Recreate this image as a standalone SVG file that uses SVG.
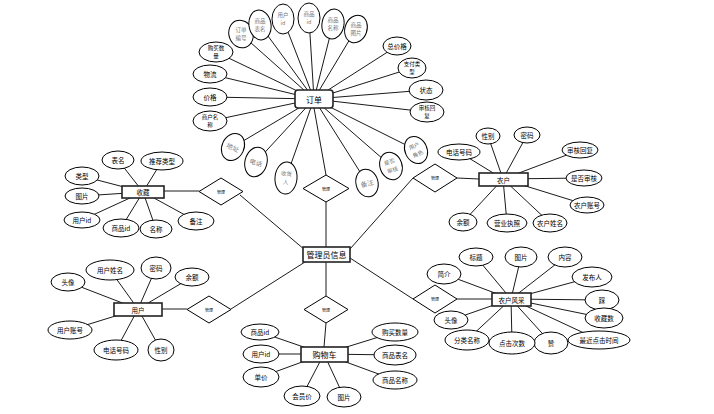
<svg xmlns="http://www.w3.org/2000/svg" width="714" height="414" viewBox="0 0 714 414">
<style>
.e{fill:#fff;stroke:#000;stroke-width:1}
.r{fill:#fff;stroke:#222;stroke-width:1.6}
.d{fill:#fff;stroke:#000;stroke-width:1}
.l{stroke:#000;stroke-width:0.9;fill:none}
text{font-family:"Noto Sans CJK SC","Noto Sans",sans-serif;text-anchor:middle;dominant-baseline:central}
.t{font-size:6.5px}
.t2{font-size:5.5px}
.g{font-size:5.5px;fill:#777}
.g1{font-size:6.5px;fill:#777}
.m{font-size:8px}
.s{font-size:4px}
</style>
<rect width="714" height="414" fill="#fff"/>
<g id="connectors" class="l">
<path d="M314 99L241 34M314 99L260 25M314 99L283 19M314 99L309 18M314 99L333 24M314 99L356 29M314 99L216 52M314 99L210 74M314 99L210 97M314 99L210 121M314 99L397 46M314 99L412 68M314 99L426 90M314 99L427 112M314 99L233 147M314 99L256 162M314 99L286 178M314 99L367 183M314 99L391 166M314 99L416 150"/>
<path d="M314 108L326 175M326 202L326 247"/>
<path d="M143 192L118 160M143 192L162 161M143 192L82 176M143 192L82 196M143 192L82 220M143 192L121 228M143 192L156 229M143 192L196 221M164 191L199 191M240 195L305 250"/>
<path d="M138 309L68 282M138 309L110 270M138 309L156 268M138 309L192 277M138 309L70 330M138 309L116 350M138 309L161 350M162 309L187 309M231 309L305 262"/>
<path d="M326 262L326 296M326 323L324 347"/>
<path d="M324 354L260 332M324 354L261 354M324 354L261 377M324 354L302 396M324 354L344 397M324 354L395 332M324 354L395 355M324 354L395 380"/>
<path d="M350 258L413 299M457 299L492 299"/>
<path d="M511 299L444 274M511 299L476 257M511 299L521 257M511 299L565 257M511 299L592 277M511 299L602 300M511 299L604 318M511 299L599 340M511 299L551 343M511 299L512 343M511 299L467 340M511 299L451 320"/>
<path d="M350 249L413 178M457 178L479 179"/>
<path d="M503 179L459 152M503 179L488 136M503 179L527 135M503 179L580 150M503 179L584 178M503 179L587 205M503 179L550 223M503 179L507 223M503 179L463 222"/>
</g>
<g id="order">
<rect class="r" x="295" y="90" width="38" height="18" rx="3"/>
<text class="m" x="314" y="99">订单</text>
</g>
<g id="order-attrs">
<g transform="rotate(-20 241 34)"><ellipse class="e" cx="241" cy="34" rx="12" ry="14"/></g><text class="g" x="241" y="29.7">订单</text><text class="g" x="241" y="38.3">编号</text>
<g transform="rotate(-10 260 25)"><ellipse class="e" cx="260" cy="25" rx="11" ry="15"/></g><text class="g" x="260" y="20.7">商品</text><text class="g" x="260" y="29.3">表名</text>
<ellipse class="e" cx="283" cy="19" rx="11" ry="15"/><text class="g" x="283" y="14.7">用户</text><text class="g" x="283" y="23.3">id</text>
<ellipse class="e" cx="309" cy="18" rx="11" ry="15"/><text class="g" x="309" y="13.7">商品</text><text class="g" x="309" y="22.3">id</text>
<g transform="rotate(10 333 24)"><ellipse class="e" cx="333" cy="24" rx="11" ry="15"/></g><text class="g" x="333" y="19.7">商品</text><text class="g" x="333" y="28.3">名称</text>
<g transform="rotate(20 356 29)"><ellipse class="e" cx="356" cy="29" rx="11" ry="14"/></g><text class="g" x="356" y="24.7">商品</text><text class="g" x="356" y="33.3">图片</text>
<ellipse class="e" cx="216" cy="52" rx="17" ry="10"/><text class="t2" x="216" y="47.7">购买数</text><text class="t2" x="216" y="56.3">量</text>
<ellipse class="e" cx="210" cy="74" rx="17" ry="9"/><text class="t" x="210" y="74">物流</text>
<ellipse class="e" cx="210" cy="97" rx="17" ry="9"/><text class="t" x="210" y="97">价格</text>
<ellipse class="e" cx="210" cy="121" rx="17" ry="10"/><text class="t2" x="210" y="116.7">商户名</text><text class="t2" x="210" y="125.3">称</text>
<ellipse class="e" cx="397" cy="46" rx="14" ry="9"/><text class="t" x="397" y="46">总价格</text>
<ellipse class="e" cx="412" cy="68" rx="14" ry="10"/><text class="t2" x="412" y="63.7">支付类</text><text class="t2" x="412" y="72.3">型</text>
<ellipse class="e" cx="426" cy="90" rx="17" ry="10"/><text class="t" x="426" y="90">状态</text>
<ellipse class="e" cx="427" cy="112" rx="17" ry="10"/><text class="t2" x="427" y="107.7">审核回</text><text class="t2" x="427" y="116.3">复</text>
<g transform="rotate(25 233 147)"><ellipse class="e" cx="233" cy="147" rx="11" ry="14"/><text class="g1" x="233" y="147">地址</text></g>
<g transform="rotate(15 256 162)"><ellipse class="e" cx="256" cy="162" rx="11" ry="15"/><text class="g1" x="256" y="162">电话</text></g>
<g transform="rotate(5 286 178)"><ellipse class="e" cx="286" cy="178" rx="11" ry="16"/><text class="g" x="286" y="173.7">收货</text><text class="g" x="286" y="182.3">人</text></g>
<g transform="rotate(-15 367 183)"><ellipse class="e" cx="367" cy="183" rx="11" ry="14"/><text class="g1" x="367" y="183">备注</text></g>
<g transform="rotate(-20 391 166)"><ellipse class="e" cx="391" cy="166" rx="11" ry="14"/><text class="g" x="391" y="161.7">是否</text><text class="g" x="391" y="170.3">审核</text></g>
<g transform="rotate(-25 416 150)"><ellipse class="e" cx="416" cy="150" rx="11" ry="14"/><text class="g" x="416" y="145.7">用户</text><text class="g" x="416" y="154.3">角色</text></g>
</g>
<g id="rel-order">
<path class="d" d="M326 175L349 188.5L326 202L303 188.5Z"/><text class="s" x="326" y="188.5">管理</text>
</g>
<g id="admin">
<rect class="r" x="303" y="247" width="47" height="15"/>
<text class="m" x="326.5" y="254.5">管理员信息</text>
</g>
<g id="favorite">
<rect class="r" x="122" y="186" width="42" height="12"/>
<text class="t" x="143" y="192">收藏</text>
<ellipse class="e" cx="118" cy="160" rx="16" ry="9"/><text class="t" x="118" y="160">表名</text>
<ellipse class="e" cx="162" cy="161" rx="21" ry="9"/><text class="t" x="162" y="161">推荐类型</text>
<ellipse class="e" cx="82" cy="176" rx="17" ry="9"/><text class="t" x="82" y="176">类型</text>
<ellipse class="e" cx="82" cy="196" rx="17" ry="8"/><text class="t" x="82" y="196">图片</text>
<ellipse class="e" cx="82" cy="220" rx="18" ry="8"/><text class="t" x="82" y="220">用户id</text>
<ellipse class="e" cx="121" cy="228" rx="18" ry="9"/><text class="t" x="121" y="228">商品id</text>
<ellipse class="e" cx="156" cy="229" rx="16" ry="9"/><text class="t" x="156" y="229">名称</text>
<ellipse class="e" cx="196" cy="221" rx="18" ry="9"/><text class="t" x="196" y="221">备注</text>
</g>
<g id="rel-favorite">
<path class="d" d="M221 178L243 191.5L221 205L199 191.5Z"/><text class="s" x="221" y="191.5">管理</text>
</g>
<g id="user">
<rect class="r" x="114" y="303" width="48" height="13"/>
<text class="t" x="138" y="309.5">用户</text>
<ellipse class="e" cx="68" cy="282" rx="17" ry="9"/><text class="t" x="68" y="282">头像</text>
<ellipse class="e" cx="110" cy="270" rx="24" ry="10"/><text class="t" x="110" y="270">用户姓名</text>
<ellipse class="e" cx="156" cy="268" rx="15" ry="11"/><text class="t" x="156" y="268">密码</text>
<ellipse class="e" cx="192" cy="277" rx="17" ry="9"/><text class="t" x="192" y="277">余额</text>
<ellipse class="e" cx="70" cy="330" rx="22" ry="9"/><text class="t" x="70" y="330">用户账号</text>
<ellipse class="e" cx="116" cy="350" rx="22" ry="10"/><text class="t" x="116" y="350">电话号码</text>
<ellipse class="e" cx="161" cy="350" rx="13" ry="11"/><text class="t" x="161" y="350">性别</text>
</g>
<g id="rel-user">
<path class="d" d="M209 296L231 309.5L209 323L187 309.5Z"/><text class="s" x="209" y="309.5">管理</text>
</g>
<g id="rel-cart">
<path class="d" d="M326 296L348 309.5L326 323L304 309.5Z"/><text class="s" x="326" y="309.5">管理</text>
</g>
<g id="cart">
<rect class="r" x="301" y="347" width="47" height="15"/>
<text class="m" x="324.5" y="354.5">购物车</text>
<ellipse class="e" cx="260" cy="332" rx="19" ry="8"/><text class="t" x="260" y="332">商品id</text>
<ellipse class="e" cx="261" cy="354" rx="18" ry="9"/><text class="t" x="261" y="354">用户id</text>
<ellipse class="e" cx="261" cy="377" rx="18" ry="10"/><text class="t" x="261" y="377">单价</text>
<ellipse class="e" cx="302" cy="396" rx="18" ry="10"/><text class="t" x="302" y="396">会员价</text>
<ellipse class="e" cx="344" cy="397" rx="17" ry="10"/><text class="t" x="344" y="397">图片</text>
<ellipse class="e" cx="395" cy="332" rx="23" ry="9"/><text class="t" x="395" y="332">购买数量</text>
<ellipse class="e" cx="395" cy="355" rx="21" ry="10"/><text class="t" x="395" y="355">商品表名</text>
<ellipse class="e" cx="395" cy="380" rx="22" ry="9"/><text class="t" x="395" y="380">商品名称</text>
</g>
<g id="rel-farmer">
<path class="d" d="M435 164L457 178L435 192L413 178Z"/><text class="s" x="435" y="178">管理</text>
</g>
<g id="farmer">
<rect class="r" x="479" y="173" width="49" height="13"/>
<text class="t" x="503.5" y="179.5">农户</text>
<ellipse class="e" cx="459" cy="152" rx="21" ry="8"/><text class="t" x="459" y="152">电话号码</text>
<ellipse class="e" cx="488" cy="136" rx="12" ry="8"/><text class="t" x="488" y="136">性别</text>
<ellipse class="e" cx="527" cy="135" rx="13" ry="8"/><text class="t" x="527" y="135">密码</text>
<ellipse class="e" cx="580" cy="150" rx="18" ry="8"/><text class="t" x="580" y="150">审核回复</text>
<ellipse class="e" cx="584" cy="178" rx="18" ry="8"/><text class="t" x="584" y="178">是否审核</text>
<ellipse class="e" cx="587" cy="205" rx="17" ry="8"/><text class="t" x="587" y="205">农户账号</text>
<ellipse class="e" cx="550" cy="223" rx="17" ry="9"/><text class="t" x="550" y="223">农户姓名</text>
<ellipse class="e" cx="507" cy="223" rx="20" ry="9"/><text class="t" x="507" y="223">营业执照</text>
<ellipse class="e" cx="463" cy="222" rx="14" ry="9"/><text class="t" x="463" y="222">余额</text>
</g>
<g id="rel-showcase">
<path class="d" d="M435 285L457 299L435 313L413 299Z"/><text class="s" x="435" y="299">管理</text>
</g>
<g id="showcase">
<rect class="r" x="492" y="293" width="39" height="13"/>
<text class="t" x="511.5" y="299.5">农户风采</text>
<ellipse class="e" cx="444" cy="274" rx="17" ry="10"/><text class="t" x="444" y="274">简介</text>
<ellipse class="e" cx="476" cy="257" rx="17" ry="9"/><text class="t" x="476" y="257">标题</text>
<ellipse class="e" cx="521" cy="257" rx="16" ry="10"/><text class="t" x="521" y="257">图片</text>
<ellipse class="e" cx="565" cy="257" rx="17" ry="10"/><text class="t" x="565" y="257">内容</text>
<ellipse class="e" cx="592" cy="277" rx="20" ry="10"/><text class="t" x="592" y="277">发布人</text>
<ellipse class="e" cx="602" cy="300" rx="17" ry="10"/><text class="t" x="602" y="300">踩</text>
<ellipse class="e" cx="604" cy="318" rx="19" ry="10"/><text class="t" x="604" y="318">收藏数</text>
<ellipse class="e" cx="599" cy="340" rx="31" ry="9"/><text class="t" x="599" y="340">最近点击时间</text>
<ellipse class="e" cx="551" cy="343" rx="17" ry="11"/><text class="t" x="551" y="343">赞</text>
<ellipse class="e" cx="512" cy="343" rx="23" ry="11"/><text class="t" x="512" y="343">点击次数</text>
<ellipse class="e" cx="467" cy="340" rx="22" ry="10"/><text class="t" x="467" y="340">分类名称</text>
<ellipse class="e" cx="451" cy="320" rx="17" ry="9"/><text class="t" x="451" y="320">头像</text>
</g>
</svg>
